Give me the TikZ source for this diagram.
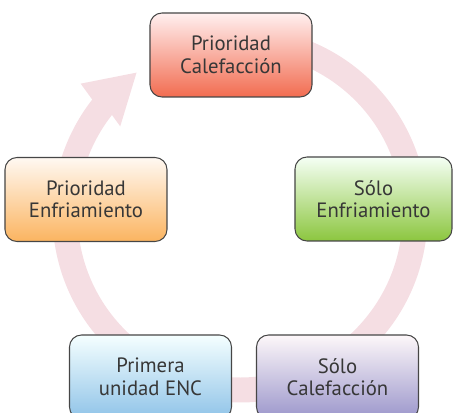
\documentclass[tikz,border=0pt]{standalone}
\usepackage{fontspec}
\setsansfont{PT Sans}
\usepackage{tikz}
\usetikzlibrary{positioning}

\definecolor{ringpink}{RGB}{245,222,227}
\definecolor{textgray}{RGB}{55,55,55}
\definecolor{edgegray}{RGB}{70,70,70}

\begin{document}
\begin{tikzpicture}[
  modebox/.style={draw=edgegray, line width=0.6pt, rounded corners=0.24cm,
    minimum width=3.24cm, minimum height=1.68cm, align=center,
    font=\sffamily\fontsize{11.8}{12.8}\selectfont, text=textgray}]
  \useasboundingbox (-4.8,-3.96) rectangle (4.26,4.3);
  % ---- ring with arrow head (behind the boxes) ----
  \fill[ringpink] (90:3.75) arc[start angle=90, end angle=-218, radius=3.75]
    -- (140.5:4.13) -- (126:3.52) -- (143.5:2.98) -- (142:3.25)
    arc[start angle=142, end angle=450, radius=3.25] -- cycle;
  % ---- modes ----
  \node[modebox, top color=red!6!white, bottom color={rgb,255:red,242;green,108;blue,80}]
    (calprio) at (-0.18,3.2) {Prioridad\\Calefacción};
  \node[modebox, minimum width=3.14cm, top color=green!4!white,
    bottom color={rgb,255:red,140;green,198;blue,63}]
    (frsolo) at (2.67,0.32) {Sólo\\Enfriamiento};
  \node[modebox, top color=purple!3!white, bottom color={rgb,255:red,155;green,150;blue,203}]
    (calsolo) at (1.95,-3.24) {Sólo\\Calefacción};
  \node[modebox, top color=cyan!4!white, bottom color={rgb,255:red,143;green,195;blue,232}]
    (primera) at (-1.79,-3.24) {Primera\\unidad ENC};
  \node[modebox, top color=orange!5!white, bottom color={rgb,255:red,251;green,180;blue,96}]
    (frprio) at (-3.08,0.31) {Prioridad\\Enfriamiento};
\end{tikzpicture}
\end{document}
